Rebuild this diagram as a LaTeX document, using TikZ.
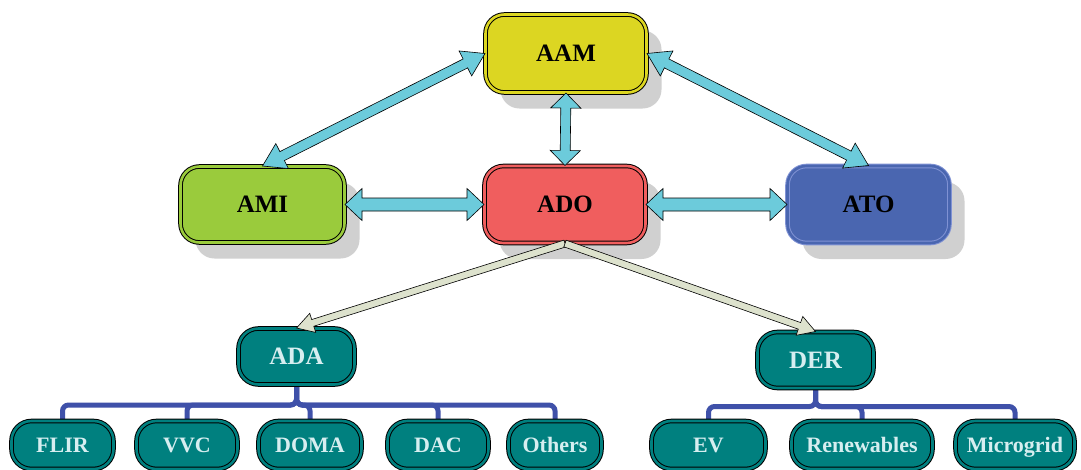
\documentclass[tikz,border=0pt]{standalone}
\usepackage{fontspec}
\setmainfont{Liberation Serif}
\usetikzlibrary{shadows,calc,backgrounds}
\definecolor{cAAM}{RGB}{220,214,34}
\definecolor{cAMI}{RGB}{154,203,60}
\definecolor{cADO}{RGB}{240,94,94}
\definecolor{cATO}{RGB}{74,102,176}
\definecolor{cATOb}{RGB}{128,146,212}
\definecolor{cteal}{RGB}{0,128,127}
\definecolor{ctealtext}{RGB}{214,238,240}
\definecolor{ccyan}{RGB}{108,203,219}
\definecolor{cbeige}{RGB}{221,226,205}
\definecolor{cbus}{RGB}{63,81,169}
\definecolor{cshadow}{RGB}{208,208,208}
\tikzset{
  box/.style={rounded corners=19pt, draw=black, line width=1pt, double distance=2.6pt,
    inner sep=0pt, text depth=0pt},
  topbox/.style={box, font=\bfseries\fontsize{25}{29}\selectfont, text height=16.5pt,
    drop shadow={shadow xshift=15pt, shadow yshift=-16pt, fill=cshadow, opacity=1}},
  tealbox/.style={box, rounded corners=20pt, fill=cteal, double=cteal, text=ctealtext},
  midbox/.style={tealbox, font=\bfseries\fontsize{25}{29}\selectfont, text height=16.5pt,
    minimum width=116pt, minimum height=56pt},
  leafbox/.style={tealbox, font=\bfseries\fontsize{22}{26}\selectfont, text height=14.5pt,
    minimum height=48pt},
  cyanarrow/.style={fill=ccyan, draw=black, line width=0.6pt},
  beigearrow/.style={fill=cbeige, draw=black, line width=0.6pt},
  bus/.style={draw=cbus, line width=5pt, rounded corners=6pt},
}
\newcommand\DArr[6]{%
  \path[#1] let \p1=(#2), \p2=(#3), \n1={atan2(\y2-\y1,\x2-\x1)}, \n2={veclen(\x2-\x1,\y2-\y1)} in
  ([shift={(\p1)},rotate=\n1]0pt,0pt)
  -- ([shift={(\p1)},rotate=\n1]{#6*1pt},{#5*1pt})
  -- ([shift={(\p1)},rotate=\n1]{#6*1pt},{#4*1pt})
  -- ([shift={(\p1)},rotate=\n1]{\n2-#6*1pt},{#4*1pt})
  -- ([shift={(\p1)},rotate=\n1]{\n2-#6*1pt},{#5*1pt})
  -- ([shift={(\p1)},rotate=\n1]{\n2+0pt},0pt)
  -- ([shift={(\p1)},rotate=\n1]{\n2-#6*1pt},{-#5*1pt})
  -- ([shift={(\p1)},rotate=\n1]{\n2-#6*1pt},{-#4*1pt})
  -- ([shift={(\p1)},rotate=\n1]{#6*1pt},{-#4*1pt})
  -- ([shift={(\p1)},rotate=\n1]{#6*1pt},{-#5*1pt})
  -- cycle;}
\newcommand\SArr[6]{%
  \path[#1] let \p1=(#2), \p2=(#3), \n1={atan2(\y2-\y1,\x2-\x1)}, \n2={veclen(\x2-\x1,\y2-\y1)} in
  ([shift={(\p1)},rotate=\n1]0pt,{#4*1pt})
  -- ([shift={(\p1)},rotate=\n1]{\n2-#6*1pt},{#4*1pt})
  -- ([shift={(\p1)},rotate=\n1]{\n2-#6*1pt},{#5*1pt})
  -- ([shift={(\p1)},rotate=\n1]{\n2+0pt},0pt)
  -- ([shift={(\p1)},rotate=\n1]{\n2-#6*1pt},{-#5*1pt})
  -- ([shift={(\p1)},rotate=\n1]{\n2-#6*1pt},{-#4*1pt})
  -- ([shift={(\p1)},rotate=\n1]0pt,{-#4*1pt})
  -- cycle;}
\begin{document}
\begin{tikzpicture}[x=1pt,y=-1pt]
\useasboundingbox (0,0) rectangle (1081,469);
% top nodes
\node[topbox, fill=cAAM, double=cAAM, minimum width=161pt, minimum height=78pt] (AAM) at (566,53.5) {AAM};
\node[topbox, fill=cAMI, double=cAMI, minimum width=164pt, minimum height=76pt] (AMI) at (262.5,204.5) {AMI};
\node[topbox, fill=cADO, double=cADO, minimum width=161pt, minimum height=77pt] (ADO) at (565,204.5) {ADO};
\node[topbox, fill=cATO, double=cATO, draw=cATOb, minimum width=162pt, minimum height=77pt] (ATO) at (868.5,204.5) {ATO};
% middle nodes
\node[midbox] (ADA) at (296.5,356.5) {ADA};
\node[midbox] (DER) at (815.5,360) {DER};
% leaves
\node[leafbox, minimum width=102pt] (FLIR) at (62.5,445) {FLIR};
\node[leafbox, minimum width=101pt] (VVC) at (187,445) {VVC};
\node[leafbox, minimum width=103pt] (DOMA) at (310,445) {DOMA};
\node[leafbox, minimum width=101pt] (DAC) at (438,445) {DAC};
\node[leafbox, minimum width=93pt] (Others) at (555,445) {Others};
\node[leafbox, minimum width=114pt] (EV) at (708.5,445) {EV};
\node[leafbox, minimum width=141pt] (Ren) at (862,445) {Renewables};
\node[leafbox, minimum width=119pt] (Micro) at (1015,445) {Microgrid};
% bus connectors
\begin{scope}[on background layer]
\fill[white] (0,0) rectangle (1081,469);
\foreach \c in {FLIR,VVC,DOMA,DAC,Others}
  \path[bus] (ADA.south) -- ++(0,20) -| (\c.north);
\foreach \c in {EV,Ren,Micro}
  \path[bus] (DER.south) -- ++(0,18) -| (\c.north);
\end{scope}
% fat arrows
\DArr{cyanarrow}{AMI.north}{AAM.west}{5}{14}{22}
\DArr{cyanarrow}{AAM.east}{ATO.north}{5}{14}{22}
\DArr{cyanarrow}{AAM.south}{ADO.north}{5}{15}{15}
\DArr{cyanarrow}{AMI.east}{ADO.west}{6.5}{16}{17}
\DArr{cyanarrow}{ADO.east}{ATO.west}{6.5}{16}{17}
\SArr{beigearrow}{ADO.south}{ADA.north}{3.5}{10}{17}
\SArr{beigearrow}{ADO.south}{DER.north}{3.5}{10}{17}
\end{tikzpicture}
\end{document}
